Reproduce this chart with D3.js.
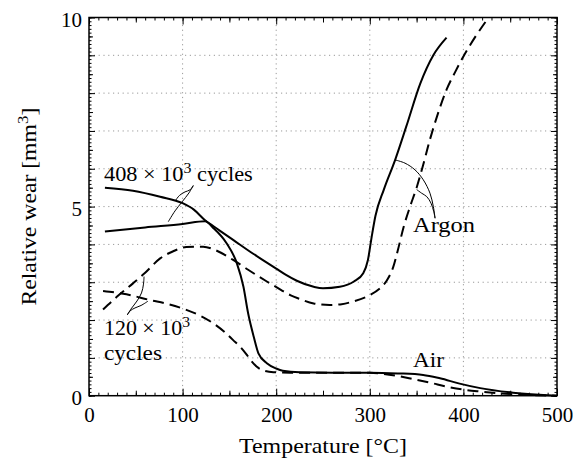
<!DOCTYPE html>
<html><head><meta charset="utf-8">
<script src="https://cdn.jsdelivr.net/npm/d3@7"></script>
<style>
body{margin:0;background:#fff}
svg{display:block}
svg text{font-family:"Liberation Serif","Times New Roman",serif !important;fill:#000}
</style>
</head><body>
<svg id="c" width="573" height="465" font-family="Liberation Serif, serif"></svg>
<script>
// ---------- data (temperature °C, relative wear mm^3) ----------
const tempTicks = [0, 100, 200, 300, 400, 500];
const wearTicks = [0, 5, 10];

const argon408 = [[17,5.50],[47,5.42],[76,5.26],[100,5.09],[112,4.92],[124,4.64],[133,4.48],[140,4.36],[154,4.12],[175,3.76],[190,3.52],[200,3.36],[210,3.2],[222,3.04],[240,2.88],[250,2.84],[268,2.88],[283,3.02],[293,3.24],[298,3.59],[302,4.2],[306,4.75],[315,5.45],[327,6.23],[339,7.12],[354,8.26],[368,9.01],[382,9.47]];
const air408 = [[17,4.34],[60,4.45],[100,4.54],[124,4.61],[133,4.43],[147,4.03],[158,3.5],[165,2.88],[170,2.18],[176,1.56],[181,1.12],[190,0.86],[200,0.72],[207,0.66],[225,0.62],[260,0.61],[300,0.61],[330,0.59],[357,0.55],[375,0.46],[396,0.32],[418,0.2],[453,0.08],[500,0.0]];
const argon120 = [[15,2.28],[30,2.62],[47,2.97],[60,3.25],[76,3.63],[90,3.82],[104,3.93],[122,3.94],[135,3.85],[154,3.59],[170,3.33],[190,3.02],[205,2.8],[215,2.66],[225,2.56],[240,2.44],[257,2.40],[270,2.42],[282,2.49],[300,2.66],[310,2.82],[318,3.04],[325,3.4],[330,3.85],[336,4.45],[343,5.0],[350,5.5],[357,6.1],[364,6.75],[372,7.4],[382,8.09],[391,8.55],[400,8.97],[413,9.5],[427,10.0]];
const air120 = [[15,2.77],[40,2.68],[65,2.53],[85,2.42],[104,2.27],[120,2.1],[133,1.91],[145,1.68],[154,1.47],[162,1.28],[168,1.1],[174,0.9],[179,0.77],[186,0.67],[197,0.62],[215,0.61],[260,0.61],[300,0.61],[314,0.58],[330,0.52],[346,0.44],[365,0.34],[382,0.24],[400,0.16],[418,0.11],[453,0.04],[500,0.0]];

// leader lines (data coordinates)
const lead408a = [[111.4,5.556],[107.9,5.442],[102.6,5.389],[96.7,5.296],[92.4,5.16]];
const lead408b = [[111.4,5.556],[106.8,5.362],[99.4,5.124],[91.9,4.886],[84.7,4.6]];
const lead120a = [[40.9,2.135],[44.9,2.294],[51.3,2.505],[56.1,2.717],[58.2,2.95],[58.8,3.15]];
const lead120b = [[40.9,2.135],[43.8,2.24],[49.1,2.32],[55.6,2.386],[63.0,2.5]];
const leadArA = [[369.7,4.693],[367.9,4.999],[364.3,5.354],[357.2,5.706],[348.3,5.971],[337.6,6.149],[326.9,6.235]];
const leadArB = [[369.7,4.693],[368.3,4.868],[365.4,5.09],[360.8,5.265],[355.4,5.354],[350.1,5.45]];

// ---------- chart ----------
const svg = d3.select("#c");
const x = d3.scaleLinear().domain([0, 500]).range([89, 557]);
const y = d3.scaleLinear().domain([0, 10]).range([395.7, 17.5]);
const FS = 21;
const FF = "Liberation Serif, serif";

// grid
const grid = svg.append("g").attr("stroke", "#9a9a9a").attr("stroke-width", 1).attr("stroke-dasharray", "1.2,3.6");
grid.selectAll(".v").data(d3.range(100, 500, 100)).join("line")
  .attr("x1", d => x(d)).attr("x2", d => x(d)).attr("y1", y(0)).attr("y2", y(10));
grid.selectAll(".h").data(d3.range(1, 10, 1)).join("line")
  .attr("x1", x(0)).attr("x2", x(500)).attr("y1", d => y(d)).attr("y2", d => y(d));

// ticks
function tickAxis(axisFn, scale, vals, size, transform) {
  const g = svg.append("g").attr("transform", transform)
    .call(axisFn(scale).tickValues(vals).tickSize(size).tickSizeOuter(0).tickFormat(""));
  g.select(".domain").remove();
  g.selectAll("line").attr("stroke", "#000").attr("stroke-width", 1);
  g.selectAll("text").remove();
  return g;
}
const xMinor = d3.range(0, 51).map(i => i * 10);
const xMid = [50, 150, 250, 350, 450];
const yMinor = d3.range(0, 101).map(i => i / 10);
const yMid = d3.range(0, 10).map(i => i + 0.5);
const yMajor = d3.range(0, 11);
const bT = `translate(0,${y(0)})`, tT = `translate(0,${y(10)})`, lT = `translate(${x(0)},0)`, rT = `translate(${x(500)},0)`;
tickAxis(d3.axisBottom, x, xMinor, -3, bT); tickAxis(d3.axisBottom, x, xMid, -5, bT); tickAxis(d3.axisBottom, x, tempTicks, -7, bT);
tickAxis(d3.axisTop, x, xMinor, -3, tT); tickAxis(d3.axisTop, x, xMid, -5, tT); tickAxis(d3.axisTop, x, tempTicks, -7, tT);
tickAxis(d3.axisLeft, y, yMinor, -2.5, lT); tickAxis(d3.axisLeft, y, yMid, -4, lT); tickAxis(d3.axisLeft, y, yMajor, -6, lT);
tickAxis(d3.axisRight, y, yMinor, -2.5, rT); tickAxis(d3.axisRight, y, yMid, -4, rT); tickAxis(d3.axisRight, y, yMajor, -6, rT);

// tick labels
const xl = svg.append("g").attr("transform", bT)
  .call(d3.axisBottom(x).tickValues(tempTicks).tickSize(0).tickPadding(11).tickFormat(d3.format("d")));
xl.select(".domain").remove();
xl.attr("font-family", FF).attr("font-size", FS);
xl.selectAll("text").attr("font-size", FS).attr("font-family", FF);
const yl = svg.append("g").attr("transform", lT)
  .call(d3.axisLeft(y).tickValues(wearTicks).tickSize(0).tickPadding(7).tickFormat(d3.format("d")));
yl.select(".domain").remove();
yl.attr("font-family", FF).attr("font-size", FS);
yl.selectAll("text").attr("font-size", FS).attr("font-family", FF).attr("dy", "0.42em");

// frame
svg.append("rect").attr("x", x(0)).attr("y", y(10)).attr("width", x(500) - x(0)).attr("height", y(0) - y(10))
  .attr("fill", "none").attr("stroke", "#000").attr("stroke-width", 1.5);

// curves
const line = d3.line().x(d => x(d[0])).y(d => y(d[1])).curve(d3.curveMonotoneX);
const series = [
  {d: argon408, dash: null}, {d: air408, dash: null},
  {d: argon120, dash: "11,6"}, {d: air120, dash: "11,6"}
];
svg.append("g").selectAll("path").data(series).join("path")
  .attr("d", s => line(s.d)).attr("fill", "none").attr("stroke", "#000")
  .attr("stroke-width", 2).attr("stroke-dasharray", s => s.dash);

// leaders
const leadLine = d3.line().x(d => x(d[0])).y(d => y(d[1])).curve(d3.curveCatmullRom);
svg.append("g").selectAll("path").data([lead408a, lead408b, lead120a, lead120b, leadArA, leadArB]).join("path")
  .attr("d", leadLine).attr("fill", "none").attr("stroke", "#000").attr("stroke-width", 1);

// text helper: fits natural width to target width
function label(px, py, parts, target, anchor, rotate) {
  const t = svg.append("text").attr("font-size", FS).attr("font-family", FF).attr("text-anchor", anchor || "start");
  parts.forEach(p => {
    const ts = t.append("tspan").text(p.s);
    if (p.sup) ts.attr("font-size", 15).attr("dy", -8);
    if (p.after) ts.attr("dy", 8);
  });
  const w = t.node().getComputedTextLength();
  const s = target ? target / w : 1;
  t.attr("transform", `translate(${px},${py})` + (rotate ? ` rotate(${rotate})` : "") + ` scale(${s},1)`);
  return t;
}

label(x(16), y(5.667), [{s: "408 × 10"}, {s: "3", sup: true}, {s: " cycles", after: true}], 149);
label(x(16), y(1.606), [{s: "120 × 10"}, {s: "3", sup: true}], 86);
label(x(16), y(0.944), [{s: "cycles"}], 58);
label(x(346.2), y(4.325), [{s: "Argon"}], 62);
label(x(346.2), y(0.751), [{s: "Air"}], 31);
label((x(0) + x(500)) / 2, 453, [{s: "Temperature [°C]"}], 168, "middle");
label(36, (y(0) + y(10)) / 2, [{s: "Relative wear [mm"}, {s: "3", sup: true}, {s: "]", after: true}], 198, "middle", -90);
</script>
</body></html>
